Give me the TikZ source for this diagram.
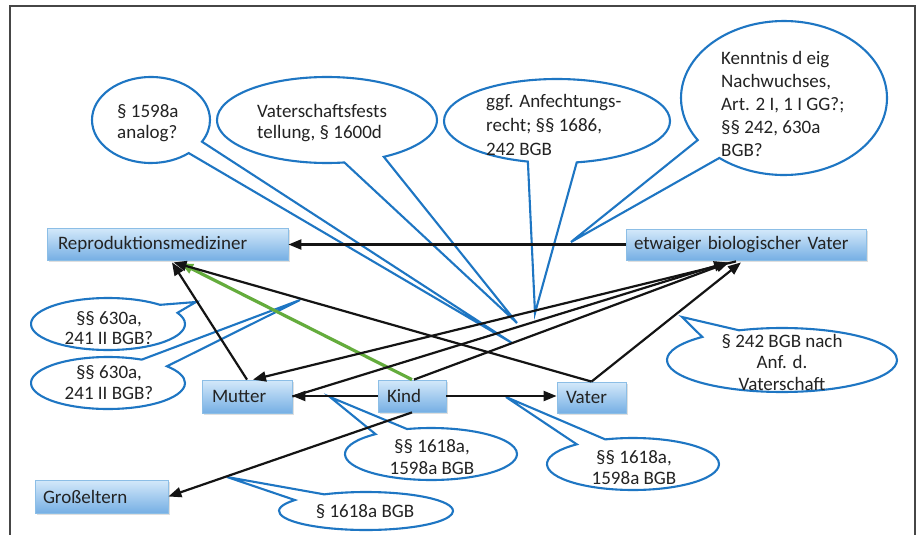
\documentclass[tikz,border=0pt]{standalone}
\usepackage{fontspec}
\setmainfont{Carlito}
\usetikzlibrary{arrows.meta,shapes.callouts,shadows}
\definecolor{cblue}{RGB}{30,118,195}
\definecolor{btop}{RGB}{212,233,250}
\definecolor{bbot}{RGB}{118,175,228}
\definecolor{bdraw}{RGB}{140,190,230}
\definecolor{cgreen}{RGB}{100,172,60}
\definecolor{frameclr}{RGB}{70,70,70}
\definecolor{ink}{RGB}{20,20,20}
\definecolor{txt}{RGB}{35,35,35}
\begin{document}
\begin{tikzpicture}[x=1pt,y=-1pt,
  box/.style={rectangle, top color=btop, bottom color=bbot, draw=bdraw, line width=0.8pt,
    drop shadow={shadow xshift=1.5pt,shadow yshift=-1.5pt,opacity=0.25},
    inner ysep=0pt, align=left, text=txt, font=\fontsize{19}{22}\selectfont},
  bubble/.style={ellipse callout, draw=cblue, line width=2.1pt, inner sep=0pt},
  btext/.style={inner sep=0pt, text=txt},
  arr/.style={draw=ink, line width=2.2pt, -{Triangle[length=13pt,width=10pt]}},
]
\useasboundingbox (0,0) rectangle (918,535);
\fill[white] (0,0) rectangle (918,535);
\draw[frameclr, line width=1.5pt] (10,536) -- (10,6) -- (915,6) -- (915,536);

% callout tips
\coordinate (p1) at (512,343);
\coordinate (p2) at (517,323);
\coordinate (p3) at (535,313);
\coordinate (p4) at (571,242);
\coordinate (p5) at (196,302);
\coordinate (p6) at (300,300);
\coordinate (p7) at (330,397);
\coordinate (p8) at (506,397);
\coordinate (p9) at (682,317);
\coordinate (p10) at (227,477);

% callouts
\node[bubble, minimum width=118pt, minimum height=86pt, callout pointer arc=20, callout absolute pointer=(p1)] (c1) at (151,120) {};
\node[bubble, minimum width=220pt, minimum height=86pt, callout pointer arc=22, callout absolute pointer=(p2)] (c2) at (327,120) {};
\node[bubble, minimum width=226pt, minimum height=84pt, callout pointer arc=25, callout absolute pointer=(p3)] (c3) at (557,121) {};
\node[bubble, minimum width=206pt, minimum height=154pt, callout pointer arc=18, callout absolute pointer=(p4)] (c4) at (784,98) {};
\node[bubble, minimum width=154pt, minimum height=52pt, callout pointer arc=22, callout absolute pointer=(p5)] (c5) at (108,324) {};
\node[bubble, minimum width=154pt, minimum height=52pt, callout pointer arc=24, callout absolute pointer=(p6)] (c6) at (108,383) {};
\node[bubble, minimum width=172pt, minimum height=52pt, callout pointer arc=24, callout absolute pointer=(p7)] (c7) at (431,454) {};
\node[bubble, minimum width=172pt, minimum height=52pt, callout pointer arc=22, callout absolute pointer=(p8)] (c8) at (633,464) {};
\node[bubble, minimum width=230pt, minimum height=64pt, callout pointer arc=22, callout absolute pointer=(p9)] (c9) at (782,360) {};
\node[bubble, minimum width=174pt, minimum height=38pt, callout pointer arc=26, callout absolute pointer=(p10)] (c10) at (366,511) {};

% callout texts
\node[btext, align=left, anchor=west, font=\fontsize{19}{21}\selectfont] (t1) at (117,123) {§ 1598a\\analog?};
\node[btext, align=left, anchor=west, font=\fontsize{19}{21}\selectfont] (t2) at (257,123) {Vaterschaftsfests\\tellung, § 1600d};
\node[btext, align=left, anchor=west, font=\fontsize{19}{24}\selectfont] (t3) at (486,125) {ggf. Anfechtungs-\\recht; §§ 1686,\\242 BGB};
\node[btext, align=left, anchor=west, font=\fontsize{19}{23}\selectfont] (t4) at (721,104) {Kenntnis d eig\\Nachwuchses,\\Art. 2 I, 1 I GG?;\\§§ 242, 630a\\BGB?};
\node[btext, align=center, font=\fontsize{19}{20}\selectfont] (t5) at (109,328) {§§ 630a,\\241 II BGB?};
\node[btext, align=center, font=\fontsize{19}{21}\selectfont] (t6) at (109,383) {§§ 630a,\\241 II BGB?};
\node[btext, align=center, font=\fontsize{19}{22}\selectfont] (t7) at (432,457) {§§ 1618a,\\1598a BGB};
\node[btext, align=center, font=\fontsize{19}{21}\selectfont] (t8) at (634,468) {§§ 1618a,\\1598a BGB};
\node[btext, align=center, font=\fontsize{19}{21.5}\selectfont] (t9) at (782,362) {§ 242 BGB nach\\Anf. d.\\Vaterschaft};
\node[btext, font=\fontsize{19}{21}\selectfont] (t10) at (365,512) {§ 1618a BGB};

% boxes
\node[box, minimum height=32pt, inner xsep=11pt, text width=219pt] (repro) at (167.5,244) {Reproduktionsmediziner};
\node[box, minimum height=31pt, inner xsep=8pt, text width=224pt] (etw) at (746,244.5) {etwaiger biologischer Vater};
\node[box, minimum height=33pt, inner xsep=10pt, text width=70pt] (mutter) at (247,396.5) {Mutter};
\node[box, minimum height=32pt, inner xsep=9pt, text width=50pt] (kind) at (412,396) {Kind};
\node[box, minimum height=31pt, inner xsep=9pt, text width=51pt] (vater) at (591.5,397.5) {Vater};
\node[box, minimum height=33pt, inner xsep=8pt, text width=117pt] (gross) at (101.5,496.5) {Großeltern};

% connectors
\draw[arr] (etw.west) -- (etw.west -| repro.east);
\draw[line width=3.2pt, draw=cgreen, -{Triangle[length=12pt,width=10pt]}, color=cgreen] (kind.north) -- ([xshift=13.5pt,yshift=-3pt]repro.south);
\draw[arr] (mutter.north) -- ([xshift=4.5pt,yshift=-2pt]repro.south);
\draw[arr] (vater.north) -- ([xshift=6pt,yshift=-2pt]repro.south);
\draw[arr] ([xshift=-10pt,yshift=-1pt]etw.south) -- ([xshift=6pt]mutter.north);
\draw[arr] (mutter.east) -- ([xshift=-19pt,yshift=-2pt]etw.south);
\draw[arr] ([xshift=2pt]kind.north) -- ([xshift=-17pt,yshift=-2pt]etw.south);
\draw[arr] (vater.north) -- ([xshift=-5pt,yshift=-2pt]etw.south);
\draw[arr] (kind.west) -- (kind.west -| mutter.east);
\draw[arr] (kind.east) -- (kind.east -| vater.west);
\draw[arr] (kind.south) -- (gross.east);
\end{tikzpicture}
\end{document}
